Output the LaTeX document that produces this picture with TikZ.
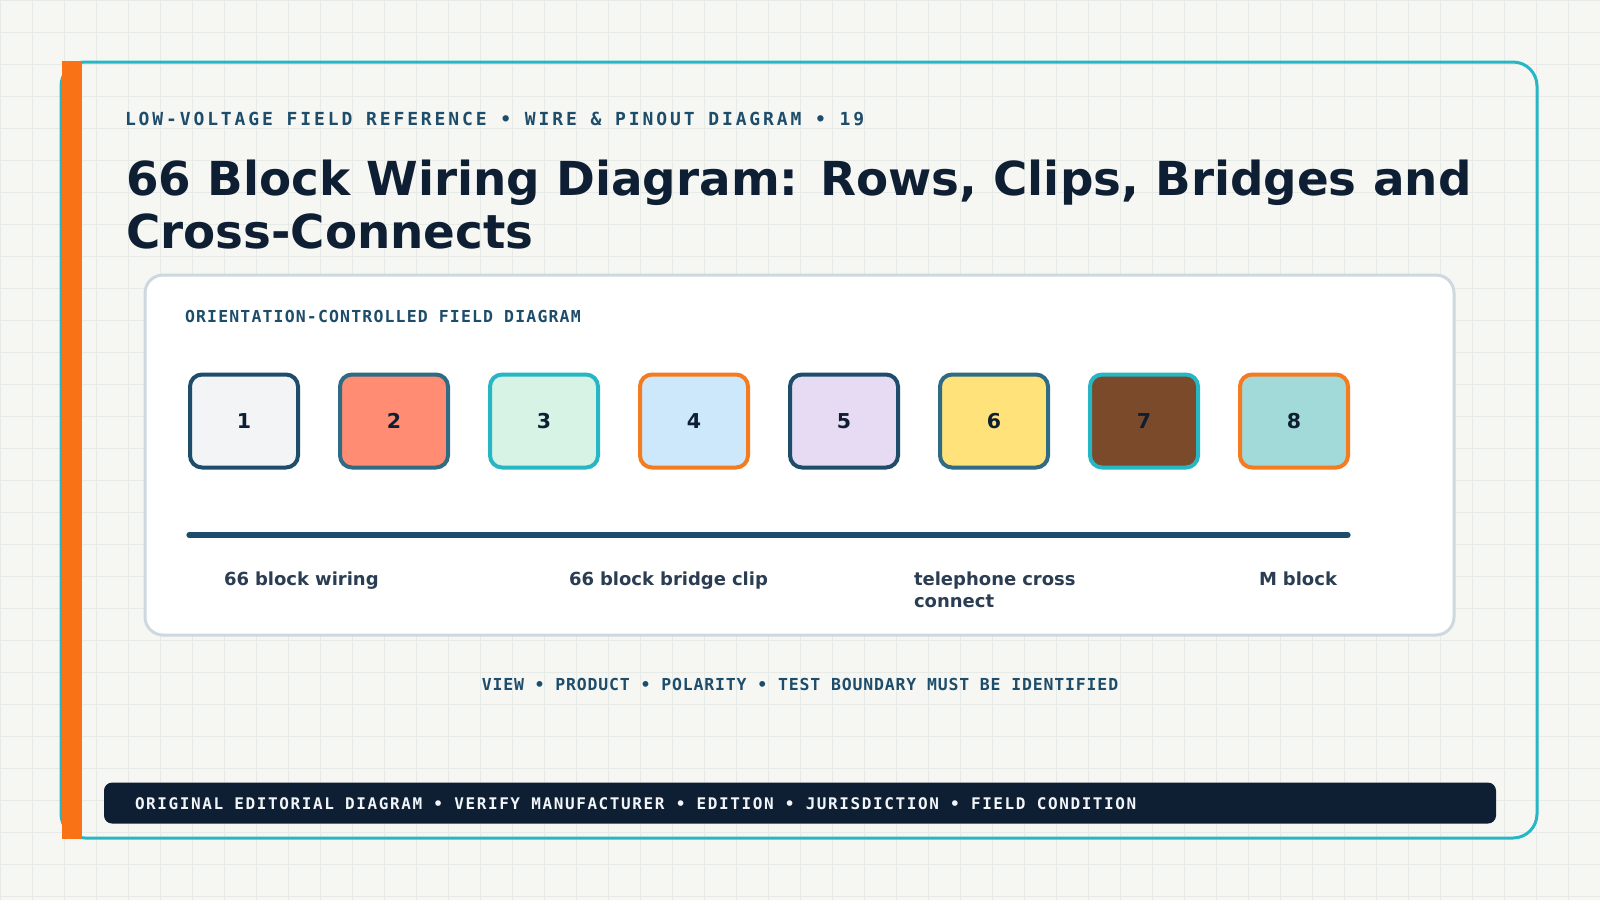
\documentclass[tikz,border=0pt]{standalone}
\usepackage{fontspec}
\setmainfont{DejaVu Sans}
\newfontfamily\kickerfont{DejaVu Sans Mono}[LetterSpace=16]
\newfontfamily\cardfont{DejaVu Sans Mono}[LetterSpace=7]
\newfontfamily\notefont{DejaVu Sans Mono}[LetterSpace=5]
\newfontfamily\footfont{DejaVu Sans Mono}[LetterSpace=10]
\definecolor{pagebg}{HTML}{F6F7F3}
\definecolor{gridrule}{HTML}{E6EBE8}
\definecolor{tealedge}{HTML}{26B6C4}
\definecolor{barorange}{HTML}{F97316}
\definecolor{edgeorange}{HTML}{F47B20}
\definecolor{inkdark}{HTML}{0F1F33}
\definecolor{inkblue}{HTML}{1E4D6B}
\definecolor{steelblue}{HTML}{2F6B82}
\definecolor{cardedge}{HTML}{CDD8DF}
\definecolor{labelink}{HTML}{2B3D52}
\definecolor{footink}{HTML}{F1F5F9}
\definecolor{fillgrey}{HTML}{F3F4F5}
\definecolor{fillsalmon}{HTML}{FF8C73}
\definecolor{fillmint}{HTML}{D6F3E6}
\definecolor{fillsky}{HTML}{CDE8FB}
\definecolor{filllilac}{HTML}{E7DBF3}
\definecolor{fillyellow}{HTML}{FFE27A}
\definecolor{fillbrown}{HTML}{7A4A2A}
\definecolor{fillaqua}{HTML}{A2DADA}
\tikzset{
  textline/.style={anchor=base west, inner sep=0pt, outer sep=0pt},
  blockbox/.style={rectangle, rounded corners=6pt, line width=2pt,
    minimum width=54pt, minimum height=46.5pt, inner sep=0pt,
    text=inkdark, font=\fontsize{10.25}{12}\selectfont\bfseries},
  railcap/.style={textline, text width=105pt, align=left, text=labelink,
    font=\fontsize{9}{11}\selectfont\bfseries},
}

\begin{document}
\begin{tikzpicture}[x=0.5pt, y=-0.5pt]
\useasboundingbox (0,0) rectangle (1600,900);
\fill[pagebg] (0,0) rectangle (1600,900);
\foreach \g in {0,32,...,1600} \draw[gridrule, line width=0.5pt] (\g,0) -- (\g,900);
\foreach \g in {0,32,...,896} \draw[gridrule, line width=0.5pt] (0,\g) -- (1600,\g);
% outer frame
\draw[tealedge, line width=1.5pt, rounded corners=12pt] (61,62) rectangle (1537,838);
\fill[barorange] (62,61) rectangle (82,839);
\node[textline, text=inkblue, font=\kickerfont\fontsize{9}{11}\selectfont\bfseries] (kicker) at (125,125.3)
  {LOW-VOLTAGE FIELD REFERENCE • WIRE \& PINOUT DIAGRAM • 19};
% base of a two-line node sits on its last line
\node[textline, align=left, text=inkdark, font=\fontsize{23.4}{26.2}\selectfont\bfseries] (title) at (126,248)
  {66 Block Wiring Diagram: Rows, Clips, Bridges and\\Cross-Connects};
% card
\draw[cardedge, fill=white, line width=1.5pt, rounded corners=9pt] (145,275) rectangle (1454,635);
\node[textline, text=inkblue, font=\cardfont\fontsize{8.25}{10}\selectfont\bfseries] (cardhead) at (185,322.7)
  {ORIENTATION-CONTROLLED FIELD DIAGRAM};
\foreach \n/\f/\s in {1/fillgrey/inkblue, 2/fillsalmon/steelblue, 3/fillmint/tealedge, 4/fillsky/edgeorange,
  5/filllilac/inkblue, 6/fillyellow/steelblue, 7/fillbrown/tealedge, 8/fillaqua/edgeorange}
  \node[blockbox, fill=\f, draw=\s] (blk\n) at ({244+150*(\n-1)},421) {\n};
\coordinate (railL) at (189,535);
\coordinate (railR) at (1348,535);
\draw[inkblue, line width=2.6pt, line cap=round] (railL) -- (railR);
\node[railcap] (cap1) at (224,585.7) {66 block wiring};
\node[railcap] (cap2) at (569,585.7) {66 block bridge clip};
\node[railcap] (cap3) at (914,585.7) {telephone cross connect};
\node[railcap] (cap4) at (1259,585.7) {M block};
\node[textline, anchor=base, text=inkblue, font=\notefont\fontsize{8.25}{10}\selectfont\bfseries] (note) at (800,690)
  {VIEW • PRODUCT • POLARITY • TEST BOUNDARY MUST BE IDENTIFIED};
% footer
\fill[inkdark, rounded corners=4pt] (104,782.6) rectangle (1496,823.5);
\node[textline, text=footink, font=\footfont\fontsize{8}{10}\selectfont\bfseries] (foot) at (135,809)
  {ORIGINAL EDITORIAL DIAGRAM • VERIFY MANUFACTURER • EDITION • JURISDICTION • FIELD CONDITION};
\end{tikzpicture}
\end{document}
